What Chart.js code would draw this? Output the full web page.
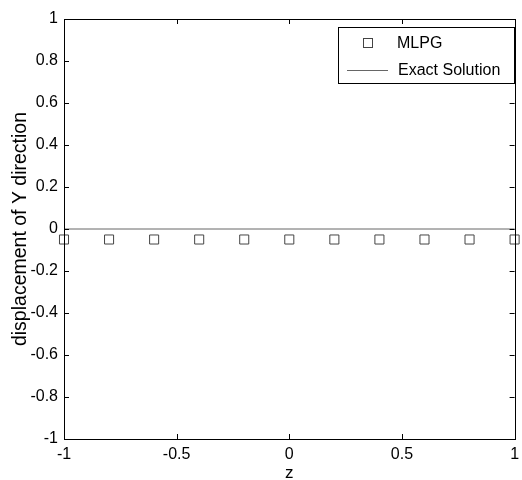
<!DOCTYPE html>
<html>
<head>
<meta charset="utf-8">
<script src="https://cdn.jsdelivr.net/npm/chart.js@4"></script>
<style>
    html, body { margin: 0; padding: 0; background: #ffffff; }
    #chart { display: block; }
</style>
</head>
<body>
<canvas id="chart" width="522" height="480"></canvas>
<script>
// Data
const zValues = [-1, -0.8, -0.6, -0.4, -0.2, 0, 0.2, 0.4, 0.6, 0.8, 1];
const mlpgValues = [-0.05, -0.05, -0.05, -0.05, -0.05, -0.05, -0.05, -0.05, -0.05, -0.05, -0.05];
const exactZ = [-1, 1];
const exactValues = [0, 0];
const xTicks = [-1, -0.5, 0, 0.5, 1];
const yTicks = [-1, -0.8, -0.6, -0.4, -0.2, 0, 0.2, 0.4, 0.6, 0.8, 1];
const seriesLabels = ["MLPG", "Exact Solution"];

const FONT = "'Liberation Sans', Arial, sans-serif";

// MATLAB-like box with inward ticks on all four sides
const boxPlugin = {
    id: "boxPlugin",
    afterDatasetsDraw(chart) {
        const { ctx, chartArea: a, scales } = chart;
        ctx.save();
        ctx.strokeStyle = "#000";
        ctx.lineWidth = 1;
        ctx.strokeRect(Math.round(a.left) + 0.5, Math.round(a.top) + 0.5,
            Math.round(a.right - a.left), Math.round(a.bottom - a.top));
        const tl = 5;
        ctx.beginPath();
        xTicks.forEach((v) => {
            const x = Math.round(scales.x.getPixelForValue(v)) + 0.5;
            ctx.moveTo(x, a.bottom); ctx.lineTo(x, a.bottom - tl);
            ctx.moveTo(x, a.top); ctx.lineTo(x, a.top + tl);
        });
        yTicks.forEach((v) => {
            const y = Math.round(scales.y.getPixelForValue(v)) + 0.5;
            ctx.moveTo(a.left, y); ctx.lineTo(a.left + tl, y);
            ctx.moveTo(a.right, y); ctx.lineTo(a.right - tl, y);
        });
        ctx.stroke();
        ctx.restore();
    },
    afterDraw(chart) {
        // legend box, top right inside the axes
        const { ctx } = chart;
        const ds = chart.data.datasets;
        const bx = 338.5, by = 27.5, bw = 176, bh = 56;
        ctx.save();
        ctx.fillStyle = "#fff";
        ctx.fillRect(bx, by, bw, bh);
        ctx.strokeStyle = "#000";
        ctx.lineWidth = 1;
        ctx.strokeRect(bx, by, bw, bh);
        // row 1: marker
        ctx.strokeStyle = ds[0].borderColor;
        ctx.strokeRect(363.5, 38.5, 9, 9);
        // row 2: line
        ctx.strokeStyle = ds[1].borderColor;
        ctx.beginPath();
        ctx.moveTo(347, 70.5);
        ctx.lineTo(388, 70.5);
        ctx.stroke();
        ctx.fillStyle = "#000";
        ctx.font = "16px " + FONT;
        ctx.textBaseline = "middle";
        ctx.textAlign = "left";
        ctx.fillText(ds[0].label, 397, 44);
        ctx.fillText(ds[1].label, 398, 71);
        ctx.restore();
    }
};

const ctx = document.getElementById("chart");
new Chart(ctx, {
    type: "scatter",
    data: {
        datasets: [
            {
                label: seriesLabels[0],
                data: zValues.map((z, i) => ({ x: z, y: mlpgValues[i] })),
                pointStyle: "rect",
                pointRadius: 6.4,
                borderColor: "#444",
                borderWidth: 1,
                backgroundColor: "rgba(0,0,0,0)",
                showLine: false,
                clip: false,
            },
            {
                label: seriesLabels[1],
                data: exactZ.map((z, i) => ({ x: z, y: exactValues[i] })),
                showLine: true,
                pointRadius: 0,
                borderColor: "#666",
                borderWidth: 1,
                clip: false,
            },
        ],
    },
    options: {
        responsive: false,
        animation: false,
        events: [],
        layout: { padding: { top: 19, right: 6, left: 0, bottom: 0 } },
        plugins: {
            legend: { display: false },
            tooltip: { enabled: false },
        },
        scales: {
            x: {
                type: "linear",
                min: -1,
                max: 1,
                afterBuildTicks: (scale) => { scale.ticks = xTicks.map((v) => ({ value: v })); },
                afterFit: (scale) => {
                    scale.height = 41;
                    scale.paddingLeft = 0;
                    scale.paddingRight = 0;
                },
                grid: { display: false, drawTicks: false },
                border: { display: false },
                ticks: {
                    color: "#000",
                    padding: 6,
                    maxRotation: 0,
                    font: { family: FONT, size: 16 },
                    callback: (v) => String(v),
                },
                title: {
                    display: true,
                    text: "z",
                    color: "#000",
                    font: { family: FONT, size: 17, lineHeight: 1 },
                    padding: { top: 0, bottom: -2 },
                },
            },
            y: {
                min: -1,
                max: 1,
                afterBuildTicks: (scale) => { scale.ticks = yTicks.map((v) => ({ value: v })); },
                afterFit: (scale) => {
                    scale.width = 64;
                    scale.paddingTop = 0;
                    scale.paddingBottom = 0;
                },
                grid: { display: false, drawTicks: false },
                border: { display: false },
                ticks: {
                    color: "#000",
                    padding: 6,
                    font: { family: FONT, size: 16 },
                    callback: (v) => String(v),
                },
                title: {
                    display: true,
                    text: "displacement of Y direction",
                    color: "#000",
                    font: { family: FONT, size: 19.5, lineHeight: 1 },
                    padding: { top: 11, bottom: 0 },
                },
            },
        },
    },
    plugins: [boxPlugin],
});
</script>
</body>
</html>
